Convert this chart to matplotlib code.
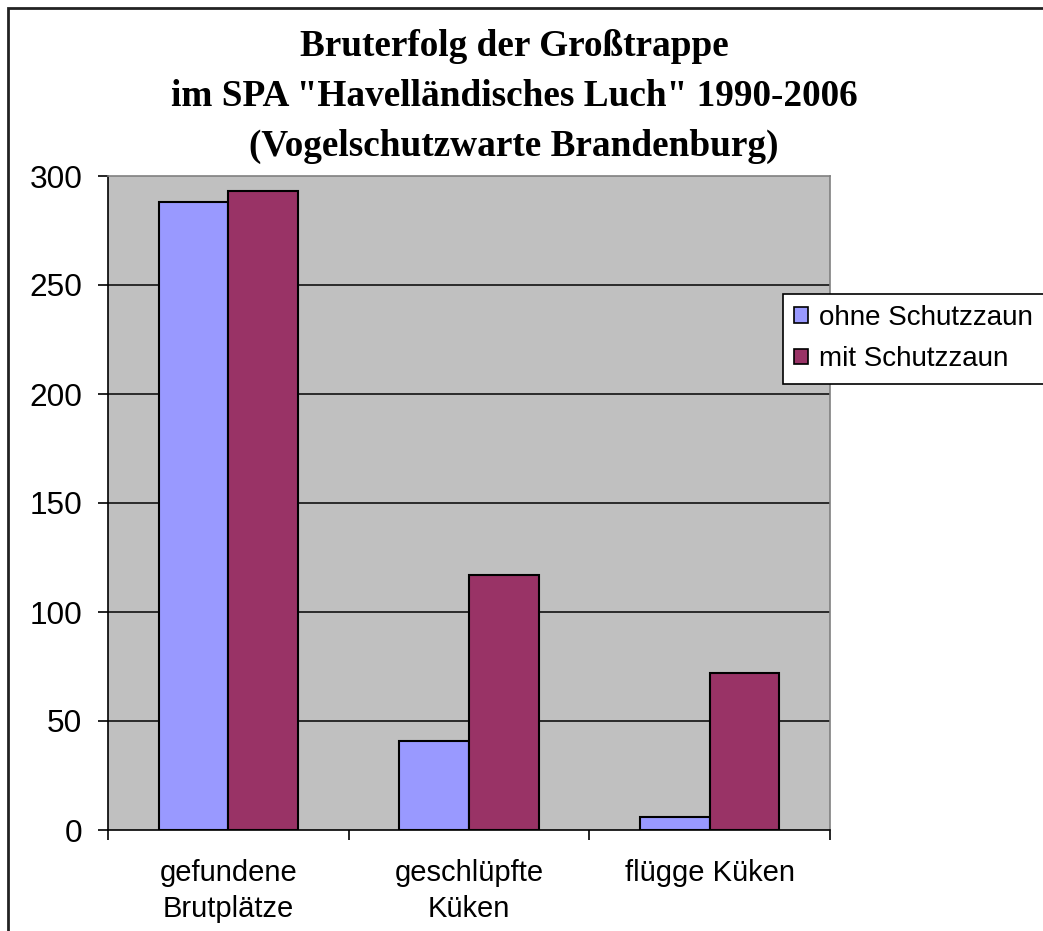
import numpy as np
import matplotlib
matplotlib.use("Agg")
import matplotlib.pyplot as plt
from matplotlib.patches import Rectangle, Patch

# Daten
kategorien = ["gefundene\nBrutplätze", "geschlüpfte\nKüken", "flügge Küken"]
ohne_zaun = [288, 41, 6]
mit_zaun = [293, 117, 72]
serien = ["ohne Schutzzaun", "mit Schutzzaun"]
titel_zeilen = ["Bruterfolg der Großtrappe",
                'im SPA "Havelländisches Luch" 1990-2006',
                "(Vogelschutzwarte Brandenburg)"]
y_ticks = [0, 50, 100, 150, 200, 250, 300]

farbe_ohne = "#9999FF"
farbe_mit = "#993366"

W, H = 1043, 931
fig = plt.figure(figsize=(W / 100, H / 100), dpi=100)
fig.patch.set_facecolor("white")

# Außenrahmen (rechts/unten abgeschnitten)
fig.add_artist(Rectangle((8 / W, -0.1), 1.2, 1 - 8 / H + 0.1,
                         transform=fig.transFigure, fill=False,
                         edgecolor="#222222", linewidth=2, clip_on=False))

ax = fig.add_axes([108 / W, 1 - 830 / H, (830 - 108) / W, (830 - 176) / H])
ax.set_facecolor("#C0C0C0")

x = np.arange(len(kategorien))
bw = 0.29
ax.bar(x - bw / 2, ohne_zaun, bw, color=farbe_ohne, edgecolor="black",
       linewidth=1.5, zorder=3)
ax.bar(x + bw / 2, mit_zaun, bw, color=farbe_mit, edgecolor="black",
       linewidth=1.5, zorder=3)

ax.set_xlim(-0.5, len(kategorien) - 0.5)
ax.set_ylim(0, 300)
ax.set_yticks(y_ticks)
ax.set_yticklabels([str(v) for v in y_ticks], fontsize=22.8,
                   family="Liberation Sans")
for v in y_ticks[1:-1]:
    ax.axhline(v, color="#111111", linewidth=1.2, zorder=1)

# Kategorie-Grenzen als Ticks, Beschriftungen mittig
ax.set_xticks(np.arange(-0.5, len(kategorien), 1.0))
ax.set_xticklabels([])
ax.set_xticks(x, minor=True)
ax.set_xticklabels(kategorien, minor=True, fontsize=21,
                   family="Liberation Sans", linespacing=1.35)
ax.tick_params(axis="x", which="minor", length=0, pad=21)
ax.tick_params(axis="x", which="major", length=7, width=1.2, direction="out")
ax.tick_params(axis="y", length=7, width=1.2, direction="out", pad=11.5)

for s in ["left", "bottom"]:
    ax.spines[s].set_color("black")
    ax.spines[s].set_linewidth(1.2)
for s in ["top", "right"]:
    ax.spines[s].set_color("#808080")
    ax.spines[s].set_linewidth(1.2)

# Titel
for i, zeile in enumerate(titel_zeilen):
    fig.text(514 / W, 1 - (46 + 50 * i) / H, zeile, ha="center", va="center",
             fontsize=26.8, fontweight="bold", family="Liberation Serif")

# Legende
handles = [Patch(facecolor=farbe_ohne, edgecolor="black", linewidth=1.2),
           Patch(facecolor=farbe_mit, edgecolor="black", linewidth=1.2)]
leg = fig.legend(handles, serien, loc="upper left",
                 bbox_to_anchor=(783 / W, 1 - 294 / H),
                 prop={"family": "Liberation Sans", "size": 20},
                 frameon=True, fancybox=False, shadow=False, framealpha=1,
                 handlelength=0.5, handleheight=0.5, handletextpad=0.4,
                 borderpad=0.4, labelspacing=0.55, borderaxespad=0)
leg.get_frame().set_edgecolor("black")
leg.get_frame().set_linewidth(1.2)

fig.savefig("out.png", dpi=100)
